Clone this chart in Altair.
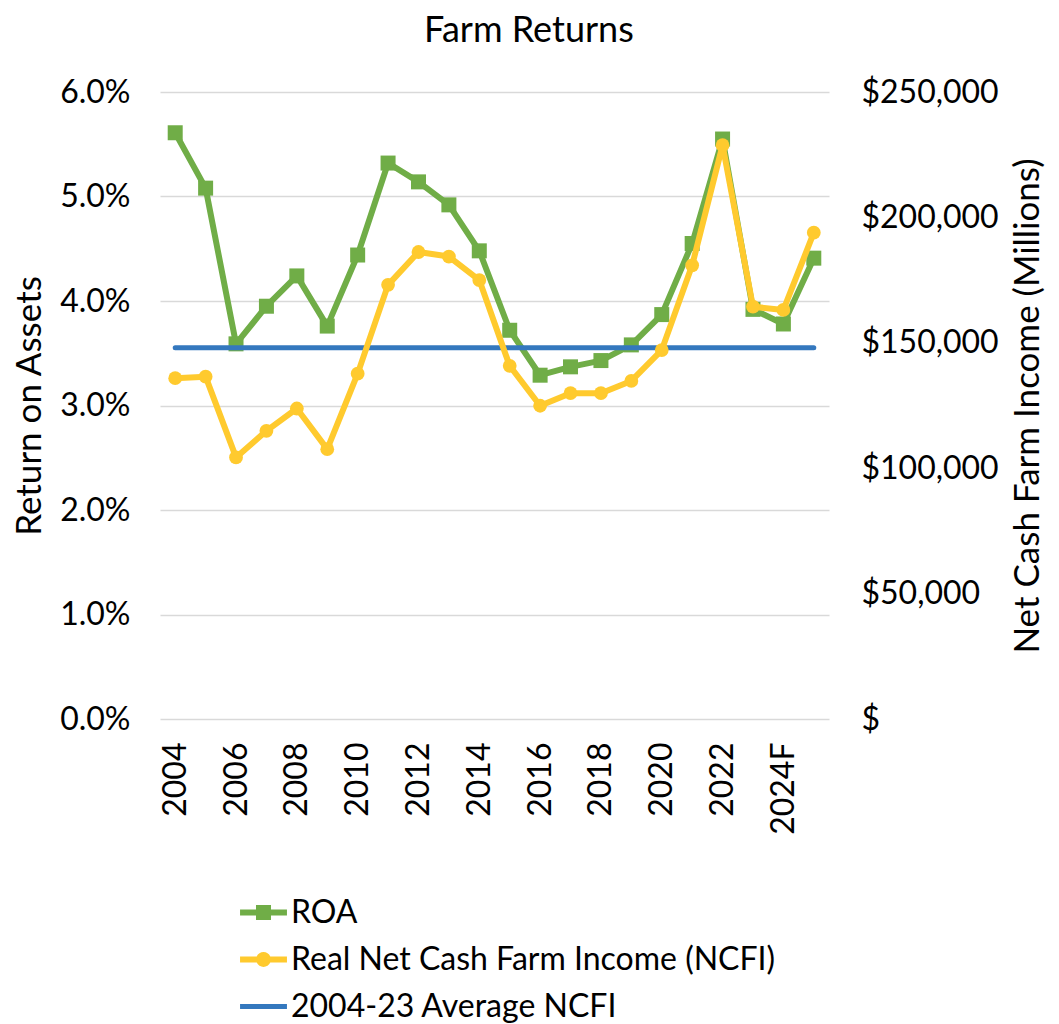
import altair as alt
import pandas as pd

years = ["2004", "2005", "2006", "2007", "2008", "2009", "2010", "2011", "2012",
         "2013", "2014", "2015", "2016", "2017", "2018", "2019", "2020", "2021",
         "2022", "2023", "2024F", "2025F"]
roa_pct = [5.61, 5.08, 3.59, 3.95, 4.24, 3.76, 4.44, 5.32, 5.14, 4.92, 4.48,
           3.72, 3.29, 3.37, 3.43, 3.58, 3.87, 4.55, 5.55, 3.92, 3.78, 4.41]
ncfi = [135900, 136500, 104300, 114900, 123800, 107600, 137700, 173100, 186200,
        184400, 175000, 140800, 124900, 129900, 129900, 134800, 147100, 180900,
        228800, 164400, 163100, 193900]
avg_ncfi = 148000
x_labels = ["2004", "2006", "2008", "2010", "2012", "2014", "2016", "2018",
            "2020", "2022", "2024F"]
series = ["ROA", "Real Net Cash Farm Income (NCFI)", "2004-23 Average NCFI"]
colors = ["#70AD47", "#FFCA2E", "#3478BE"]
legend_paths = [
    "M-1,-0.13H-0.32V-0.32H0.32V-0.13H1V0.13H0.32V0.32H-0.32V0.13H-1Z",
    "M-1,-0.13H-0.29A0.32,0.32 0 0 1 0.29,-0.13H1V0.13H0.29A0.32,0.32 0 0 1 -0.29,0.13H-1Z",
    "M-1,-0.11H1V0.11H-1Z",
]

FONT = "Lato"

df = pd.DataFrame({
    "year": years,
    "roa": [v / 100 for v in roa_pct],
    "ncfi": ncfi,
    "avg": [avg_ncfi] * len(years),
})
legend_df = pd.DataFrame({"series": series})

x_enc = alt.X(
    "year:N",
    sort=years,
    scale=alt.Scale(domain=years, type="point", padding=0.5),
    axis=alt.Axis(values=x_labels, labelAngle=270, title=None, domain=False,
                  ticks=False, grid=False, labelPadding=23, labelFontSize=32,
                  labelFont=FONT, labelColor="black"),
)

roa_layer = alt.Chart(df).mark_line(
    color=colors[0], strokeWidth=6, strokeJoin="round",
    point=alt.OverlayMarkDef(shape="square", size=225, filled=True,
                             color=colors[0], opacity=1),
).encode(
    x=x_enc,
    y=alt.Y("roa:Q",
            scale=alt.Scale(domain=[0, 0.06], nice=False, zero=True),
            axis=alt.Axis(orient="left", format=".1%", values=[0, 0.01, 0.02, 0.03, 0.04, 0.05, 0.06],
                          title="Return on Assets", domain=False, ticks=False,
                          grid=True, gridColor="#D9D9D9", gridWidth=1.5,
                          labelPadding=30, titlePadding=12)),
)

avg_layer = alt.Chart(df).mark_line(
    color=colors[2], strokeWidth=5, strokeCap="round",
).encode(
    x=x_enc,
    y=alt.Y("avg:Q", scale=alt.Scale(domain=[0, 250000], nice=False, zero=True),
            axis=None),
)

ncfi_layer = alt.Chart(df).mark_line(
    color=colors[1], strokeWidth=6, strokeJoin="round",
    point=alt.OverlayMarkDef(shape="circle", size=190, filled=True,
                             color=colors[1], opacity=1),
).encode(
    x=x_enc,
    y=alt.Y("ncfi:Q",
            scale=alt.Scale(domain=[0, 250000], nice=False, zero=True),
            axis=alt.Axis(orient="right", values=[0, 50000, 100000, 150000, 200000, 250000],
                          labelExpr="datum.value == 0 ? '$' : '$' + format(datum.value, ',')",
                          title="Net Cash Farm Income (Millions)", titleAngle=270,
                          titleBaseline="top",
                          domain=False, ticks=False, grid=False,
                          labelPadding=32, titlePadding=12)),
)

leg = alt.Legend(
    title=None, orient="none", legendX=80, legendY=797, direction="vertical",
    labelFont=FONT, labelFontSize=32, labelColor="black", symbolSize=2200,
    symbolStrokeWidth=0, labelOffset=4, rowPadding=7, padding=0, labelLimit=1000,
    symbolOpacity=1,
)

legend_layer = alt.Chart(legend_df).mark_point(filled=True, clip=True, opacity=1).encode(
    x=alt.value(-5000),
    y=alt.value(-5000),
    color=alt.Color("series:N", scale=alt.Scale(domain=series, range=colors), legend=leg),
    shape=alt.Shape("series:N", scale=alt.Scale(domain=series, range=legend_paths), legend=leg),
)

chart = alt.layer(roa_layer, avg_layer, ncfi_layer, legend_layer).resolve_scale(
    y="independent"
).properties(
    width=669,
    height=627,
    padding={"left": 4, "top": 5, "right": 0, "bottom": 0},
    title=alt.TitleParams("Farm Returns", font=FONT, fontSize=36, fontWeight="normal",
                          color="black", anchor="middle", frame="bounds", offset=26),
).configure_view(stroke=None).configure_axis(
    labelFont=FONT, titleFont=FONT, labelFontSize=32, titleFontSize=35,
    labelColor="black", titleColor="black", titleFontWeight="normal",
)

chart.save("out.html", embed_options={"renderer": "svg", "actions": False})
